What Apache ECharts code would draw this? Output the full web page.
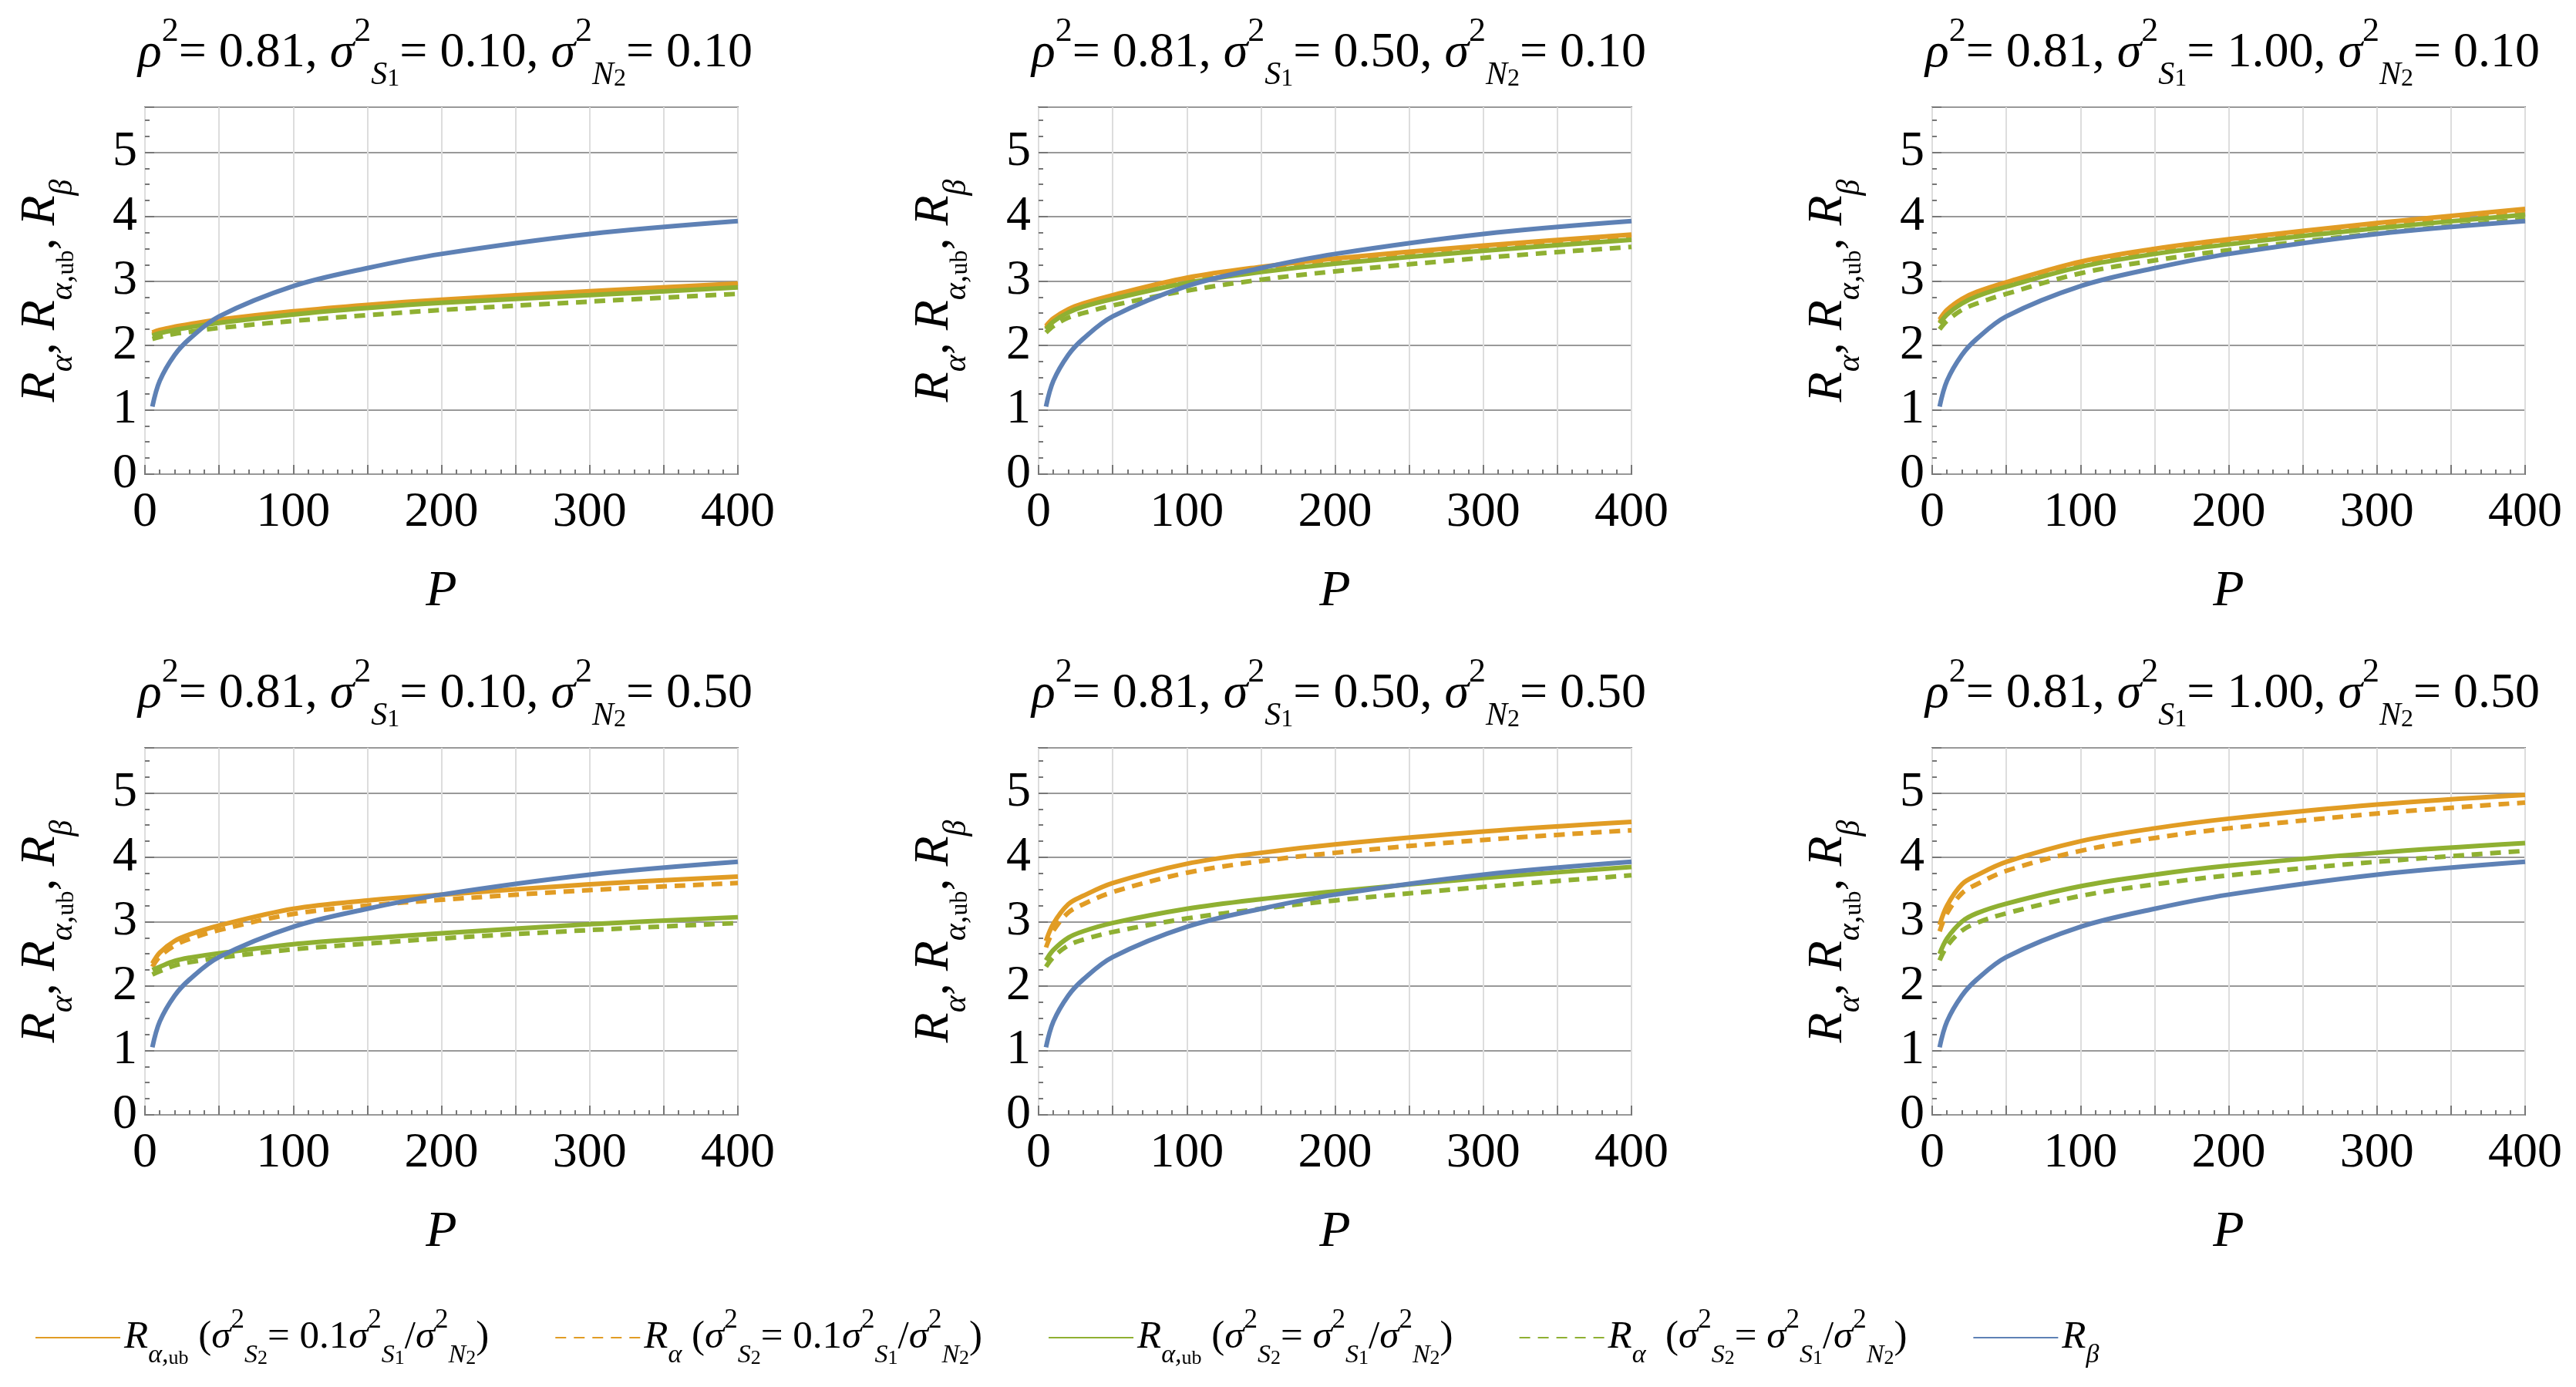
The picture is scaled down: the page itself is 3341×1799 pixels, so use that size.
<!DOCTYPE html>
<html>
<head>
<meta charset="utf-8">
<script src="https://cdn.jsdelivr.net/npm/echarts@6/dist/echarts.min.js"></script>
<style>html,body{margin:0;background:#fff}#main{width:3341px;height:1799px}</style>
</head>
<body>
<div id="main"></div>
<script>
var P = [5, 10, 20, 30, 50, 100, 150, 200, 300, 400];
var sigmaS1 = ['0.10', '0.50', '1.00', '0.10', '0.50', '1.00'];
var sigmaN2 = ['0.10', '0.10', '0.10', '0.50', '0.50', '0.50'];

var rBeta = [1.05, 1.45, 1.85, 2.1, 2.45, 2.92, 3.2, 3.42, 3.73, 3.93];

var ubLow = [
  [2.2, 2.24, 2.29, 2.33, 2.4, 2.53, 2.63, 2.71, 2.84, 2.96],
  [2.3, 2.42, 2.56, 2.65, 2.78, 3.05, 3.22, 3.35, 3.55, 3.72],
  [2.4, 2.55, 2.72, 2.83, 2.98, 3.3, 3.5, 3.65, 3.9, 4.12],
  [2.35, 2.52, 2.7, 2.8, 2.94, 3.2, 3.33, 3.42, 3.58, 3.7],
  [2.7, 2.97, 3.27, 3.4, 3.6, 3.9, 4.07, 4.2, 4.4, 4.55],
  [2.95, 3.25, 3.58, 3.72, 3.93, 4.25, 4.45, 4.6, 4.82, 4.97]
];
var raLow = [
  [2.17, 2.21, 2.26, 2.3, 2.37, 2.5, 2.6, 2.68, 2.8, 2.92],
  [2.27, 2.39, 2.53, 2.62, 2.75, 3.0, 3.17, 3.3, 3.5, 3.67],
  [2.36, 2.5, 2.67, 2.78, 2.93, 3.24, 3.44, 3.59, 3.84, 4.05],
  [2.3, 2.46, 2.63, 2.73, 2.87, 3.12, 3.25, 3.34, 3.49, 3.6],
  [2.6, 2.86, 3.14, 3.27, 3.46, 3.76, 3.94, 4.07, 4.27, 4.42],
  [2.85, 3.13, 3.44, 3.58, 3.79, 4.1, 4.3, 4.45, 4.68, 4.85]
];
var ubEq = [
  [2.15, 2.19, 2.24, 2.28, 2.35, 2.48, 2.58, 2.66, 2.78, 2.9],
  [2.25, 2.37, 2.51, 2.6, 2.72, 2.97, 3.14, 3.27, 3.47, 3.64],
  [2.34, 2.48, 2.65, 2.76, 2.91, 3.22, 3.42, 3.57, 3.82, 4.03],
  [2.25, 2.3, 2.39, 2.44, 2.51, 2.65, 2.74, 2.82, 2.96, 3.07],
  [2.4, 2.56, 2.75, 2.85, 2.98, 3.2, 3.35, 3.47, 3.68, 3.85],
  [2.5, 2.74, 3.0, 3.13, 3.28, 3.55, 3.73, 3.87, 4.07, 4.22]
];
var raEq = [
  [2.1, 2.13, 2.18, 2.21, 2.27, 2.38, 2.47, 2.55, 2.68, 2.8],
  [2.2, 2.3, 2.43, 2.5, 2.62, 2.85, 3.02, 3.15, 3.36, 3.53],
  [2.25, 2.38, 2.55, 2.65, 2.8, 3.12, 3.32, 3.48, 3.74, 3.96],
  [2.18, 2.23, 2.32, 2.37, 2.44, 2.57, 2.66, 2.74, 2.87, 2.98],
  [2.3, 2.45, 2.63, 2.72, 2.84, 3.05, 3.2, 3.33, 3.54, 3.72],
  [2.4, 2.62, 2.86, 2.98, 3.13, 3.4, 3.58, 3.72, 3.93, 4.1]
];

var ORANGE = '#E19C24', GREEN = '#8FB032', BLUE = '#5E81B5';
var FONT = '"Liberation Serif", "DejaVu Serif", serif';
var lefts = [188, 1347, 2506], tops = [139, 970], W = 769, H = 476;

var rich = {
  b: { fontFamily: FONT, fontSize: 64, fontWeight: 'normal', color: '#000' },
  i: { fontFamily: FONT, fontSize: 64, fontWeight: 'normal', fontStyle: 'italic', color: '#000' },
  sup: { fontFamily: FONT, fontSize: 44, fontWeight: 'normal', color: '#000', verticalAlign: 'top', lineHeight: 100 },
  sub: { fontFamily: FONT, fontSize: 42, fontWeight: 'normal', fontStyle: 'italic', color: '#000', verticalAlign: 'bottom', lineHeight: 100 },
  subn: { fontFamily: FONT, fontSize: 32, fontWeight: 'normal', color: '#000', verticalAlign: 'bottom', lineHeight: 100 }
};

function pairs(arr) { return P.map(function (p, k) { return [p, arr[k]]; }); }

var chart = echarts.init(document.getElementById('main'));
var grids = [], xAxes = [], yAxes = [], series = [], titles = [];

for (var i = 0; i < 6; i++) {
  var L = lefts[i % 3], T = tops[Math.floor(i / 3)];
  grids.push({ left: L, top: T, width: W, height: H, show: true, borderColor: '#777', borderWidth: 2 });
  titles.push({
    text: '{i|ρ}{sup|2}{b|= 0.81, }{i|σ}{sup|2}{sub|S}{subn|1}{b|= ' + sigmaS1[i] + ', }{i|σ}{sup|2}{sub|N}{subn|2}{b|= ' + sigmaN2[i] + '}',
    left: L + W / 2, top: T - 125, textAlign: 'center',
    textStyle: { fontWeight: 'normal', rich: rich }
  });
  xAxes.push({
    gridIndex: i, type: 'value', min: 0, max: 400, interval: 50,
    name: 'P', nameLocation: 'middle', nameGap: 120,
    nameTextStyle: { fontFamily: FONT, fontSize: 66, fontStyle: 'italic', color: '#000' },
    axisLine: { show: false },
    axisTick: { inside: true, length: 12, lineStyle: { color: '#777', width: 2 } },
    minorTick: { show: true, splitNumber: 5, length: 6, lineStyle: { color: '#777', width: 2 } },
    axisLabel: { fontFamily: FONT, fontSize: 64, color: '#000', margin: 18,
      formatter: function (v) { return v % 100 === 0 ? String(v) : ''; } },
    splitLine: { show: true, lineStyle: { color: '#ddd', width: 2 } }
  });
  yAxes.push({
    gridIndex: i, type: 'value', min: 0, max: 5.7, interval: 1,
    name: '{i|R}{sub|α}{b|, }{i|R}{sub|α,}{subn|ub}{b|, }{i|R}{sub|β}',
    nameLocation: 'middle', nameGap: 85, nameRotate: 90,
    nameTextStyle: { rich: rich },
    axisLine: { show: false },
    axisTick: { inside: true, length: 12, lineStyle: { color: '#777', width: 2 } },
    minorTick: { show: true, splitNumber: 4, length: 6, lineStyle: { color: '#777', width: 2 } },
    axisLabel: { fontFamily: FONT, fontSize: 64, color: '#000', margin: 10,
      formatter: function (v) { return Number.isInteger(v) ? String(v) : ''; } },
    splitLine: { show: true, lineStyle: { color: '#999', width: 2 } }
  });
  var defs = [
    ['ubLow', ubLow[i], ORANGE, 'solid'],
    ['raLow', raLow[i], ORANGE, [14, 10]],
    ['ubEq', ubEq[i], GREEN, 'solid'],
    ['raEq', raEq[i], GREEN, [14, 10]],
    ['beta', rBeta, BLUE, 'solid']
  ];
  defs.forEach(function (d) {
    series.push({
      name: d[0], type: 'line', xAxisIndex: i, yAxisIndex: i, smooth: 0.35,
      showSymbol: false, symbol: 'none', data: pairs(d[1]), z: d[0] === 'beta' ? 3 : 2,
      lineStyle: { color: d[2], width: 6, type: d[3] }, itemStyle: { color: d[2] }
    });
  });
}

var legendText = {
  ubLow: '{i|R}{sub|α,}{subn|ub}{b| (}{i|σ}{sup|2}{sub|S}{subn|2}{b|= 0.1}{i|σ}{sup|2}{sub|S}{subn|1}{b|/}{i|σ}{sup|2}{sub|N}{subn|2}{b|)}',
  raLow: '{i|R}{sub|α}{b| (}{i|σ}{sup|2}{sub|S}{subn|2}{b|= 0.1}{i|σ}{sup|2}{sub|S}{subn|1}{b|/}{i|σ}{sup|2}{sub|N}{subn|2}{b|)}',
  ubEq: '{i|R}{sub|α,}{subn|ub}{b| (}{i|σ}{sup|2}{sub|S}{subn|2}{b|= }{i|σ}{sup|2}{sub|S}{subn|1}{b|/}{i|σ}{sup|2}{sub|N}{subn|2}{b|)}',
  raEq: '{i|R}{sub|α}{b|  (}{i|σ}{sup|2}{sub|S}{subn|2}{b|= }{i|σ}{sup|2}{sub|S}{subn|1}{b|/}{i|σ}{sup|2}{sub|N}{subn|2}{b|)}',
  beta: '{i|R}{sub|β}'
};
var legRich = {};
Object.keys(rich).forEach(function (k) {
  legRich[k] = Object.assign({}, rich[k], { fontSize: Math.round(rich[k].fontSize * 0.8), lineHeight: 80 });
});

chart.setOption({
  animation: false,
  title: titles,
  grid: grids,
  xAxis: xAxes,
  yAxis: yAxes,
  legend: {
    data: ['ubLow', 'raLow', 'ubEq', 'raEq', 'beta'],
    left: 40, top: 1690, itemGap: 85, itemWidth: 110, itemHeight: 12,
    itemStyle: { opacity: 0 },
    formatter: function (n) { return legendText[n]; },
    textStyle: { rich: legRich }
  },
  series: series
});
</script>
</body>
</html>
